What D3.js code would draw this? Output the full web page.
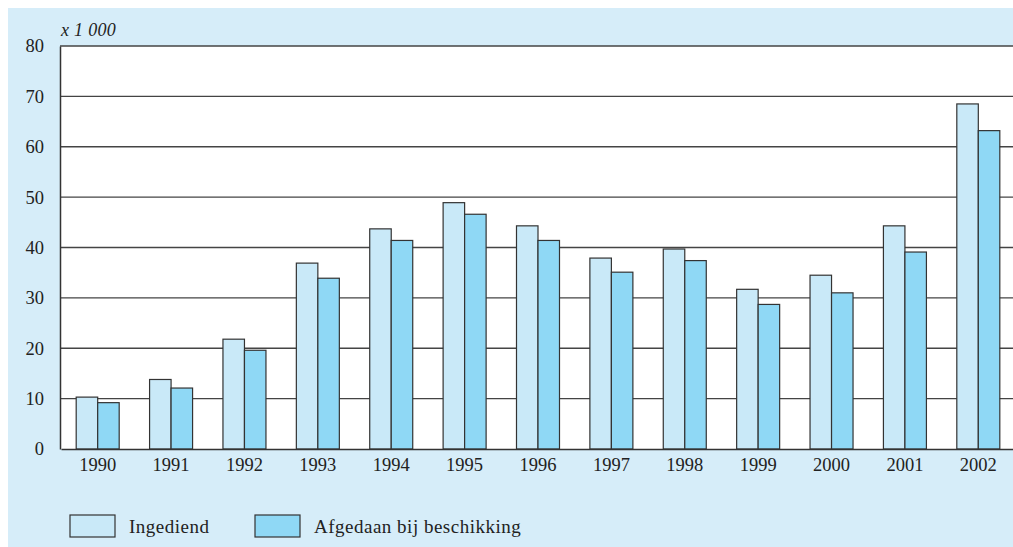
<!DOCTYPE html>
<html>
<head>
<meta charset="utf-8">
<script src="https://cdn.jsdelivr.net/npm/d3@7"></script>
<style>
  body { margin: 0; background: #fff; }
  svg { display: block; }
  text { font-family: "Liberation Serif", "DejaVu Serif", serif; fill: #222; }
</style>
</head>
<body>
<div id="chart"></div>
<script>
const years = ["1990", "1991", "1992", "1993", "1994", "1995", "1996", "1997", "1998", "1999", "2000", "2001", "2002"];
const ingediend = [10.3, 13.8, 21.8, 36.9, 43.7, 48.9, 44.3, 37.9, 39.7, 31.7, 34.5, 44.3, 68.5];
const afgedaan = [9.2, 12.1, 19.6, 33.9, 41.4, 46.6, 41.4, 35.1, 37.4, 28.7, 31.0, 39.1, 63.2];
const seriesNames = ["Ingediend", "Afgedaan bij beschikking"];
const yTicks = [0, 10, 20, 30, 40, 50, 60, 70, 80];

const width = 1013, height = 547;
const colors = ["#c9e9f8", "#8fd8f5"];

const svg = d3.select("#chart")
  .append("svg")
  .attr("width", width)
  .attr("height", height);

// light blue panel
svg.append("rect")
  .attr("x", 8).attr("y", 8)
  .attr("width", width - 8).attr("height", height - 8)
  .attr("fill", "#d6edf9");

const plot = { left: 60, right: 1015, top: 46, bottom: 449 };

svg.append("rect")
  .attr("x", plot.left).attr("y", plot.top)
  .attr("width", plot.right - plot.left).attr("height", plot.bottom - plot.top)
  .attr("fill", "#fff");

const xScale = d3.scaleBand()
  .domain(years)
  .range([plot.left + 1, plot.right]);

const yScale = d3.scaleLinear()
  .domain([0, 80])
  .range([plot.bottom, plot.top]);

// gridlines
svg.append("g")
  .selectAll("line")
  .data(yTicks.filter(d => d > 0))
  .join("line")
  .attr("x1", plot.left).attr("x2", plot.right)
  .attr("y1", d => yScale(d)).attr("y2", d => yScale(d))
  .attr("stroke", "#444")
  .attr("stroke-width", 1.3);

const barW = 21.5;
const rows = years.map((y, i) => ({ year: y, values: [ingediend[i], afgedaan[i]] }));

const groups = svg.append("g")
  .selectAll("g")
  .data(rows)
  .join("g")
  .attr("transform", d => `translate(${xScale(d.year) + xScale.bandwidth() / 2 - barW},0)`);

groups.selectAll("rect")
  .data(d => d.values)
  .join("rect")
  .attr("x", (d, i) => i * barW)
  .attr("y", d => yScale(d))
  .attr("width", barW)
  .attr("height", d => yScale(0) - yScale(d))
  .attr("fill", (d, i) => colors[i])
  .attr("stroke", "#333")
  .attr("stroke-width", 1.2);

// axes
const yAxis = d3.axisLeft(yScale).tickValues(yTicks).tickSize(0).tickPadding(16);
svg.append("g")
  .attr("transform", `translate(${plot.left},0)`)
  .call(yAxis)
  .call(g => g.select(".domain").attr("stroke", "#333").attr("stroke-width", 1.5))
  .call(g => g.selectAll("text").attr("font-size", 18.5).attr("font-family", "Liberation Serif").attr("fill", "#222"));

const xAxis = d3.axisBottom(xScale).tickSize(0).tickPadding(9);
svg.append("g")
  .attr("transform", `translate(0,${plot.bottom})`)
  .call(xAxis)
  .call(g => g.select(".domain").attr("stroke", "#333").attr("stroke-width", 1.5))
  .call(g => g.selectAll("text").attr("font-size", 18.5).attr("font-family", "Liberation Serif").attr("fill", "#222"));

svg.append("text")
  .attr("x", 61).attr("y", 36)
  .attr("font-size", 18)
  .attr("font-style", "italic")
  .attr("letter-spacing", 0.3)
  .text("x 1 000");

// legend
const legendX = [70, 255];
const legend = svg.append("g")
  .selectAll("g")
  .data(seriesNames)
  .join("g")
  .attr("transform", (d, i) => `translate(${legendX[i]},515)`);

legend.append("rect")
  .attr("width", 45).attr("height", 22)
  .attr("fill", (d, i) => colors[i])
  .attr("stroke", "#333")
  .attr("stroke-width", 1.2);

legend.append("text")
  .attr("x", 59).attr("y", 18)
  .attr("font-size", 19)
  .attr("letter-spacing", 0.5)
  .text(d => d);
</script>
</body>
</html>
